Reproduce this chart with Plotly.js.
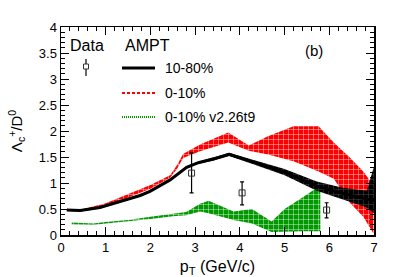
<!DOCTYPE html>
<html><head><meta charset="utf-8">
<script src="https://cdn.plot.ly/plotly-3.0.1.min.js"></script>
<style>html,body{margin:0;padding:0;background:#fff}#c{width:407px;height:277px}</style>
</head><body><div id="c"></div>
<script>
// AMPT 10-80% (black)
const xB = [0.13,0.43,0.87,1.32,1.77,1.99,2.44,2.81,3.07,3.4,3.76,4.27,5.0,5.72,6.3,6.84,7.0];
const cB = [0.48,0.47,0.53,0.64,0.76,0.84,1.06,1.30,1.39,1.46,1.55,1.41,1.21,0.94,0.80,0.69,0.67];
const loB = [0.46,0.45,0.51,0.62,0.74,0.82,1.04,1.28,1.37,1.43,1.52,1.37,1.15,0.85,0.69,0.53,0.42];
const hiB = [0.50,0.49,0.55,0.66,0.78,0.86,1.08,1.32,1.41,1.49,1.58,1.45,1.27,1.03,0.91,0.85,1.32];
// AMPT 0-10% (red)
const xR = [0.2,0.5,1.0,1.5,2.0,2.44,2.6,2.73,3.11,3.74,4.2,4.63,5.2,5.76,6.1,6.47,6.76,6.99];
const hiR = [0.50,0.50,0.61,0.78,0.96,1.15,1.35,1.56,1.74,1.97,1.72,1.90,2.09,2.09,1.78,1.48,1.22,0.95];
const loR = [0.47,0.47,0.57,0.72,0.89,1.10,1.28,1.48,1.61,1.78,1.62,1.55,1.42,1.22,1.08,0.61,0.35,0.03];
// AMPT 0-10% v2.26t9 (green)
const xG = [0.24,0.72,1.0,1.5,2.0,2.5,2.8,3.11,3.3,3.86,4.27,4.71,5.0,5.4,5.8];
const hiG = [0.24,0.22,0.25,0.29,0.35,0.41,0.44,0.60,0.66,0.45,0.50,0.26,0.50,0.72,0.95];
const loG = [0.20,0.19,0.22,0.26,0.31,0.36,0.38,0.45,0.42,0.29,0.22,0.06,0.07,0.07,0.07];
// Data
const xD = [2.92,4.05,5.94];
const yD = [1.19,0.81,0.48];
const eUp = [0.39,0.21,0.14];
const eDn = [0.38,0.23,0.15];
const xTicks = [0,1,2,3,4,5,6,7];
const yTicks = [0,0.5,1,1.5,2,2.5,3,3.5,4];

function band(x, lo, hi, col, fgop, op){
  return [
    {x:x, y:lo, mode:'lines', line:{width:0,color:col}, hoverinfo:'skip', showlegend:false},
    {x:x, y:hi, mode:'lines', line:{width:0,color:col}, fill:'tonexty', fillcolor:col, opacity:op,
     fillpattern:{shape:'+', bgcolor:col, fgcolor:'white', fgopacity:fgop, size:5, solidity:0.18},
     hoverinfo:'skip', showlegend:false}
  ];
}
const traces = [].concat(
  band(xR, loR, hiR, '#ff0000', 0.85, 1),
  band(xG, loG, hiG, '#009900', 0.85, 1),
  band(xB, loB, hiB, '#000000', 0.3, 0.9),
  [{x:xB, y:cB, mode:'lines', line:{color:'black', width:3}, showlegend:false},
   {x:xD, y:yD, mode:'markers', marker:{symbol:'square-open', size:6, color:'#333', line:{width:1}},
    error_y:{type:'data', symmetric:false, array:eUp, arrayminus:eDn, color:'black', thickness:1.2, width:2},
    showlegend:false}]
);
const F = 'Liberation Sans, Arial, sans-serif';
const ax = {ticks:'inside', mirror:'allticks', showline:true, linecolor:'black', linewidth:1.5,
  tickcolor:'black', ticklen:8, tickwidth:1, showgrid:false, zeroline:false,
  tickfont:{family:F, size:13, color:'black'}};
const x0=61, x1=374, y0=235, y1=27;
const px = v => (v-x0)/(x1-x0), py = v => (y0-v)/(y0-y1);
const layout = {
  width:407, height:277, margin:{l:61, r:33, t:27, b:42}, paper_bgcolor:'white', plot_bgcolor:'white',
  showlegend:false, font:{family:F, color:'black'},
  xaxis:Object.assign({}, ax, {range:[0,7], tickvals:xTicks, ticktext:xTicks.map(String),
    minor:{dtick:0.2, ticks:'inside', ticklen:4, tickcolor:'black'},
    title:{text:'p<sub>T</sub> (GeV/c)', font:{family:F, size:16}, standoff:6}}),
  yaxis:Object.assign({}, ax, {range:[0,4], tickvals:yTicks, ticktext:yTicks.map(String),
    minor:{dtick:0.1, ticks:'inside', ticklen:4, tickcolor:'black'},
    title:{text:'Λ<sub>c</sub><sup>+</sup>/D<sup>0</sup>', font:{family:F, size:15}, standoff:12}}),
  annotations:[
    {xref:'paper', yref:'paper', x:px(68), y:py(45), xanchor:'left', yanchor:'middle', text:'Data', showarrow:false, font:{size:16}},
    {xref:'paper', yref:'paper', x:px(123), y:py(45), xanchor:'left', yanchor:'middle', text:'AMPT', showarrow:false, font:{size:16}},
    {xref:'paper', yref:'paper', x:px(163), y:py(68), xanchor:'left', yanchor:'middle', text:'10-80%', showarrow:false, font:{size:14}},
    {xref:'paper', yref:'paper', x:px(163), y:py(93), xanchor:'left', yanchor:'middle', text:'0-10%', showarrow:false, font:{size:14}},
    {xref:'paper', yref:'paper', x:px(163), y:py(117), xanchor:'left', yanchor:'middle', text:'0-10% v2.26t9', showarrow:false, font:{size:14}},
    {xref:'paper', yref:'paper', x:px(314), y:py(50), xanchor:'center', yanchor:'middle', text:'(b)', showarrow:false, font:{size:15}}
  ],
  shapes:[
    {type:'line', xref:'paper', yref:'paper', x0:px(122), x1:px(155), y0:py(68), y1:py(68), line:{color:'black', width:3}},
    {type:'line', xref:'paper', yref:'paper', x0:px(122), x1:px(155), y0:py(93), y1:py(93), line:{color:'#ff0000', width:2, dash:'3px,2px'}},
    {type:'line', xref:'paper', yref:'paper', x0:px(122), x1:px(155), y0:py(117), y1:py(117), line:{color:'#009900', width:2, dash:'1px,1px'}},
    {type:'line', xref:'paper', yref:'paper', x0:px(86), x1:px(86), y0:py(59), y1:py(76), line:{color:'black', width:1.2}},
    {type:'rect', xref:'paper', yref:'paper', x0:px(83.5), x1:px(88.5), y0:py(69), y1:py(64), fillcolor:'white', line:{color:'#333', width:1}}
  ]
};
Plotly.newPlot('c', traces, layout, {staticPlot:true});
</script></body></html>
